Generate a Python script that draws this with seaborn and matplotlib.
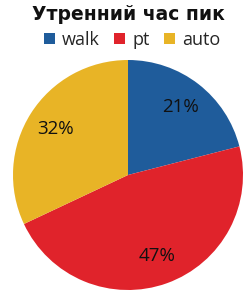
import matplotlib
matplotlib.use("Agg")
import matplotlib.pyplot as plt
import seaborn as sns
from matplotlib.patches import Patch

categories = ["walk", "pt", "auto"]
values = [21, 47, 32]
title = "Утренний час пик"
colors = ["#1F5C9B", "#E0232B", "#E8B426"]

sns.set_theme(style="white")
plt.rcParams['font.family'] = ['Open Sans', 'DejaVu Sans']

fig = plt.figure(figsize=(2.46, 2.95), dpi=100)
W, H = 246, 295
cx, cy, r = 128, 175, 115
ax = fig.add_axes([(cx - r) / W, (H - cy - r) / H, 2 * r / W, 2 * r / H])
ax.pie(values, colors=colors, startangle=90, counterclock=False,
       autopct=lambda p: f"{p:.0f}%", pctdistance=0.75,
       textprops=dict(fontsize=13.5, color="#111111"),
       wedgeprops=dict(linewidth=0))
ax.set_xlim(-1, 1)
ax.set_ylim(-1, 1)
ax.set_aspect("equal")
ax.axis("off")

fig.text(128 / W, 1 - 15 / H, title, ha="center", va="center",
         fontsize=13.5, fontweight="bold", color="#111111",
         family=["DejaVu Sans"])
handles = [Patch(facecolor=c, edgecolor="none") for c in colors]
fig.legend(handles, categories, loc="center", bbox_to_anchor=(132 / W, 1 - 40 / H),
           ncol=3, frameon=False, fontsize=13, handlelength=0.6, handleheight=0.6,
           handletextpad=0.4, columnspacing=0.8, borderpad=0)

fig.savefig("out.png", dpi=100)
